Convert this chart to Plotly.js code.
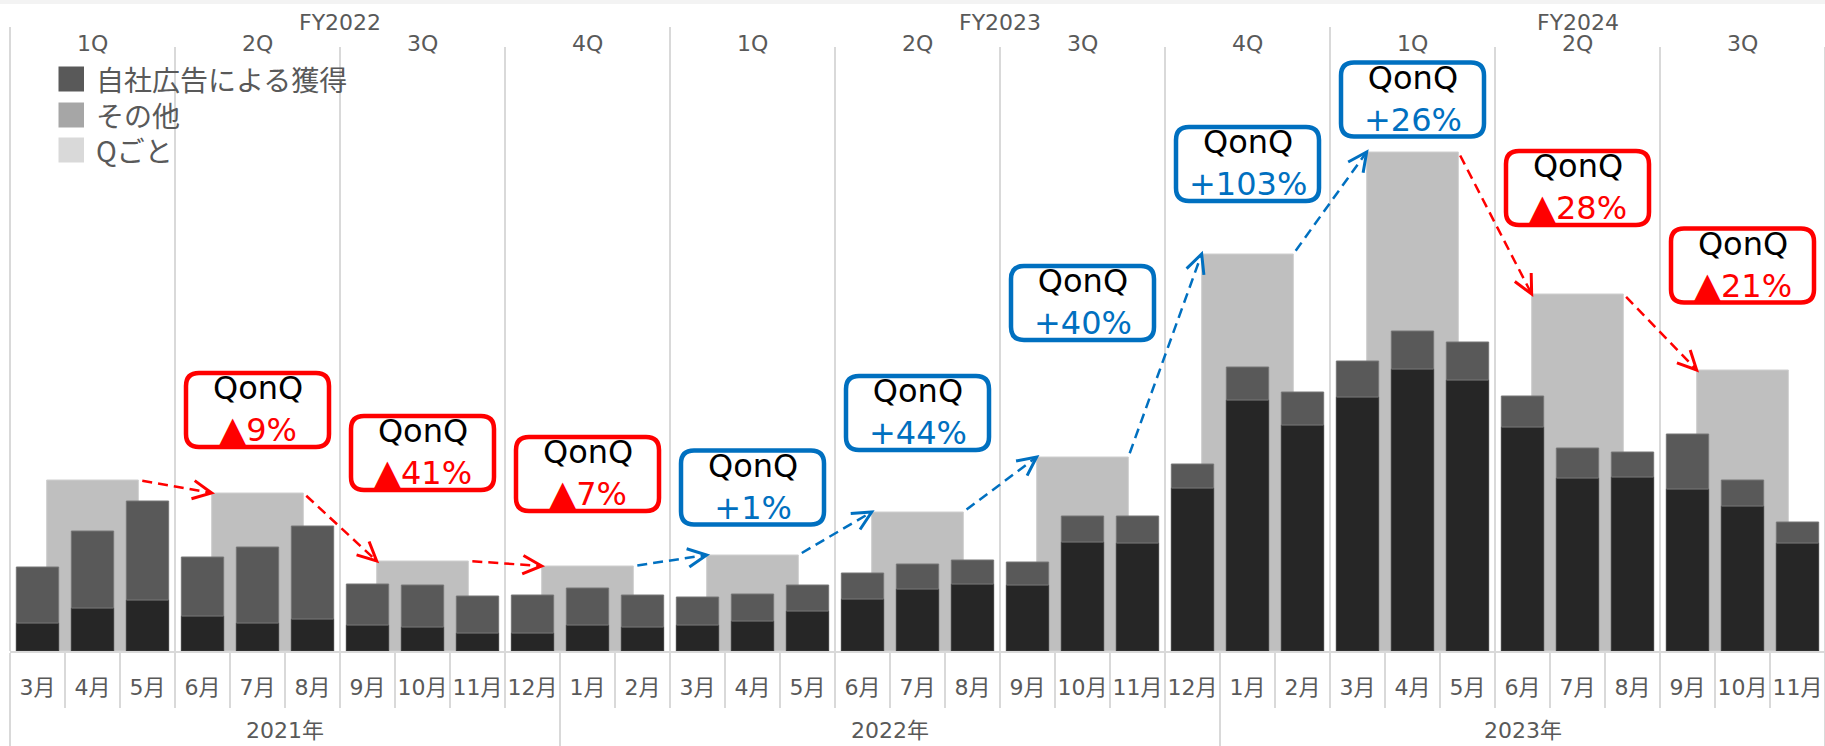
<!DOCTYPE html>
<html><head><meta charset="utf-8">
<script src="https://cdn.plot.ly/plotly-3.0.1.min.js"></script>
<style>html,body{margin:0;padding:0;background:#fff;}#chart{width:1825px;height:746px;}</style>
</head><body><div id="chart"></div>
<script>
// ---------- data ----------
const monthLabels = ['3月','4月','5月','6月','7月','8月','9月','10月','11月','12月',
  '1月','2月','3月','4月','5月','6月','7月','8月','9月','10月','11月','12月',
  '1月','2月','3月','4月','5月','6月','7月','8月','9月','10月','11月'];
const otherValues  = [28,43,51,35,28,32,26,24,18,18,26,24,26,30,40,52,62,67,66,109,108,163,251,226,254,282,271,224,173,174,162,145,108];
const selfAdValues = [56,77,99,59,76,93,41,42,37,38,37,32,28,27,26,26,25,24,23,26,27,24,33,33,36,38,38,31,30,25,55,26,21];
const quarterLabels = ['1Q','2Q','3Q','4Q','1Q','2Q','3Q','4Q','1Q','2Q','3Q'];
const quarterValues = [171,158,90,85,96,139,194,397,499,357,281];
const qonqLabels = ['▲9%','▲41%','▲7%','+1%','+44%','+40%','+103%','+26%','▲28%','▲21%'];
const yearLabels = ['2021年','2022年','2023年'];
const yearMonthCounts = [10,12,11];
const fyLabels = ['FY2022','FY2023','FY2024'];
const legendLabels = ['自社広告による獲得','その他','Qごと'];

// ---------- layout constants ----------
const W = 1825, H = 746, ML = 10, MR = 0, MT = 27, MB = 95;
const N = monthLabels.length;
const plotW = W - ML - MR, plotH = H - MT - MB;
const baseY = H - MB;
const pxPerX = plotW / N, pxPerY = 1;
const xPaperIdxBoundary = k => k / N;
const xPaperPx = px => (px - ML) / plotW;
const yPaperPx = py => (baseY - py) / plotH;
const MONTH_W = 0.77, Q_W = 1.667;
const RED = '#ff0000', BLUE = '#0070c0', GRID = '#d9d9d9', TXT = '#595959';
const labelFont = {family: '"DejaVu Sans", "Noto Sans CJK JP", sans-serif', size: 22, color: TXT};
// callout box vertical centres (value units) for quarters 2..11
const boxCentres = [241,198,177,163.5,238,348,487,551.5,463,385.5];

const idx = monthLabels.map((_, i) => i);
const qCentre = quarterLabels.map((_, q) => 3 * q + 1);

const traces = [
  {type:'bar', x:qCentre, y:quarterValues, width:Q_W, marker:{color:'#bfbfbf', line:{color:'#cfcfcf', width:1}}, hoverinfo:'skip'},
  {type:'bar', x:idx, y:otherValues, width:MONTH_W, marker:{color:'#262626', line:{color:'#3a3a3a', width:1}}, hoverinfo:'skip'},
  {type:'bar', x:idx, y:selfAdValues, base:otherValues, width:MONTH_W, marker:{color:'#595959', line:{color:'#767676', width:1}}, hoverinfo:'skip'}
];

const shapes = [];
const annotations = [];

// top hatched stripe
shapes.push({type:'rect', xref:'paper', yref:'paper', x0:xPaperPx(0), x1:xPaperPx(W), y0:yPaperPx(0), y1:yPaperPx(4), fillcolor:'#f3f3f3', line:{width:0}, layer:'below'});

// vertical lines above axis (quarter / FY boundaries)
for (let k = 0; k <= N; k += 3) {
  const isFY = k % 12 === 0;
  shapes.push({type:'line', xref:'paper', yref:'paper', x0:xPaperIdxBoundary(k), x1:xPaperIdxBoundary(k),
    y0:yPaperPx(isFY ? 27 : 47), y1:0, line:{color:GRID, width:2}, layer:'below'});
}
// separators below axis
const yearStarts = [0];
yearMonthCounts.forEach((c, i) => yearStarts.push(yearStarts[i] + c));
for (let k = 0; k <= N; k++) {
  const isYear = yearStarts.includes(k);
  shapes.push({type:'line', xref:'paper', yref:'paper', x0:xPaperIdxBoundary(k), x1:xPaperIdxBoundary(k),
    y0:yPaperPx(653), y1:yPaperPx(isYear ? H : 708), line:{color:GRID, width:2}});
}
// year labels
yearLabels.forEach((t, i) => {
  const c = (yearStarts[i] + yearStarts[i + 1]) / 2;
  annotations.push({xref:'paper', yref:'paper', x:c / N, y:yPaperPx(730), text:t, showarrow:false, font:labelFont, xanchor:'center', yanchor:'middle'});
});
// quarter labels
quarterLabels.forEach((t, q) => {
  annotations.push({xref:'x', yref:'paper', x:qCentre[q], y:yPaperPx(43), text:t, showarrow:false, font:labelFont, xanchor:'center', yanchor:'middle'});
});
// FY labels (centred on visible part)
fyLabels.forEach((t, f) => {
  const s = f * 12, e = Math.min(N, s + 12);
  annotations.push({xref:'paper', yref:'paper', x:(s + e) / 2 / N, y:yPaperPx(22), text:t, showarrow:false, font:labelFont, xanchor:'center', yanchor:'middle'});
});

// legend
const swatchColors = ['#595959', '#a6a6a6', '#d9d9d9'];
const legendRows = [79, 115, 150];
legendLabels.forEach((t, i) => {
  const cy = legendRows[i];
  shapes.push({type:'rect', xref:'paper', yref:'paper', x0:xPaperPx(58.5), x1:xPaperPx(84), y0:yPaperPx(cy - 12.5), y1:yPaperPx(cy + 12.5), fillcolor:swatchColors[i], line:{width:0}});
  annotations.push({xref:'paper', yref:'paper', x:xPaperPx(94), y:yPaperPx(cy), text:t, showarrow:false, xanchor:'left', yanchor:'middle',
    font:{family:'"Noto Sans CJK JP", sans-serif', size:28, color:TXT}});
});

// callout boxes and arrows
function roundRect(hw, hh, r) {
  return `M ${-hw + r},${hh} L ${hw - r},${hh} Q ${hw},${hh} ${hw},${hh - r} L ${hw},${-hh + r} Q ${hw},${-hh} ${hw - r},${-hh} ` +
         `L ${-hw + r},${-hh} Q ${-hw},${-hh} ${-hw},${-hh + r} L ${-hw},${hh - r} Q ${-hw},${hh} ${-hw + r},${hh} Z`;
}
qonqLabels.forEach((lab, i) => {
  const q = i + 1;
  const down = lab.startsWith('▲');
  const col = down ? RED : BLUE;
  const valText = down
    ? `<span style="color:${col};font-size:35px">▲</span><span style="color:${col}">${lab.slice(1)}</span>`
    : `<span style="color:${col}">${lab}</span>`;
  shapes.push({type:'path', xref:'x', yref:'y', xsizemode:'pixel', ysizemode:'pixel', xanchor:qCentre[q], yanchor:boxCentres[i],
    path:roundRect(71.5, 37, 13), fillcolor:'#ffffff', line:{color:col, width:4.5}});
  annotations.push({xref:'x', yref:'y', x:qCentre[q], y:boxCentres[i] + 1, showarrow:false, xanchor:'center', yanchor:'middle',
    text:`QonQ<br>${valText}`, font:{family:'"DejaVu Sans", sans-serif', size:32, color:'#000'}});
  // arrow from previous quarter's top-right corner to this quarter's top-left corner
  const tx0 = qCentre[q - 1] + Q_W / 2, ty0 = quarterValues[q - 1];
  const tx1 = qCentre[q] - Q_W / 2, ty1 = quarterValues[q];
  const dx = (tx1 - tx0) * pxPerX, dy = (ty1 - ty0) * pxPerY;
  const len = Math.hypot(dx, dy); const ux = dx / len, uy = dy / len;
  const gap = 4;
  shapes.push({type:'line', xref:'x', yref:'y', x0:tx0 + ux * gap / pxPerX, y0:ty0 + uy * gap / pxPerY, x1:tx1 - ux * 2 / pxPerX, y1:ty1 - uy * 2 / pxPerY,
    line:{color:col, width:2.5, dash:'10px,6px'}});
  const L = 21, a = 26 * Math.PI / 180;
  const arm = s => {
    const c = Math.cos(s * a), sn = Math.sin(s * a);
    const bx = -ux, by = -uy;
    return [(bx * c - by * sn) * L, (bx * sn + by * c) * L];
  };
  const p1 = arm(1), p2 = arm(-1);
  shapes.push({type:'path', xref:'x', yref:'y', xsizemode:'pixel', ysizemode:'pixel', xanchor:tx1, yanchor:ty1,
    path:`M ${p1[0].toFixed(2)},${p1[1].toFixed(2)} L 0,0 L ${p2[0].toFixed(2)},${p2[1].toFixed(2)}`, line:{color:col, width:3}});
});

const layout = {
  width:W, height:H, margin:{l:ML, r:MR, t:MT, b:MB, pad:0},
  paper_bgcolor:'#ffffff', plot_bgcolor:'#ffffff',
  barmode:'overlay', showlegend:false, hovermode:false,
  xaxis:{range:[-0.5, N - 0.5], tickvals:idx, ticktext:monthLabels, showgrid:false, zeroline:false,
    showline:true, linecolor:GRID, linewidth:2, ticks:'', tickfont:labelFont, ticklabelstandoff:16, fixedrange:true},
  yaxis:{range:[0, plotH / pxPerY], visible:false, fixedrange:true},
  shapes, annotations
};
Plotly.newPlot('chart', traces, layout, {displayModeBar:false, staticPlot:true});
</script></body></html>
